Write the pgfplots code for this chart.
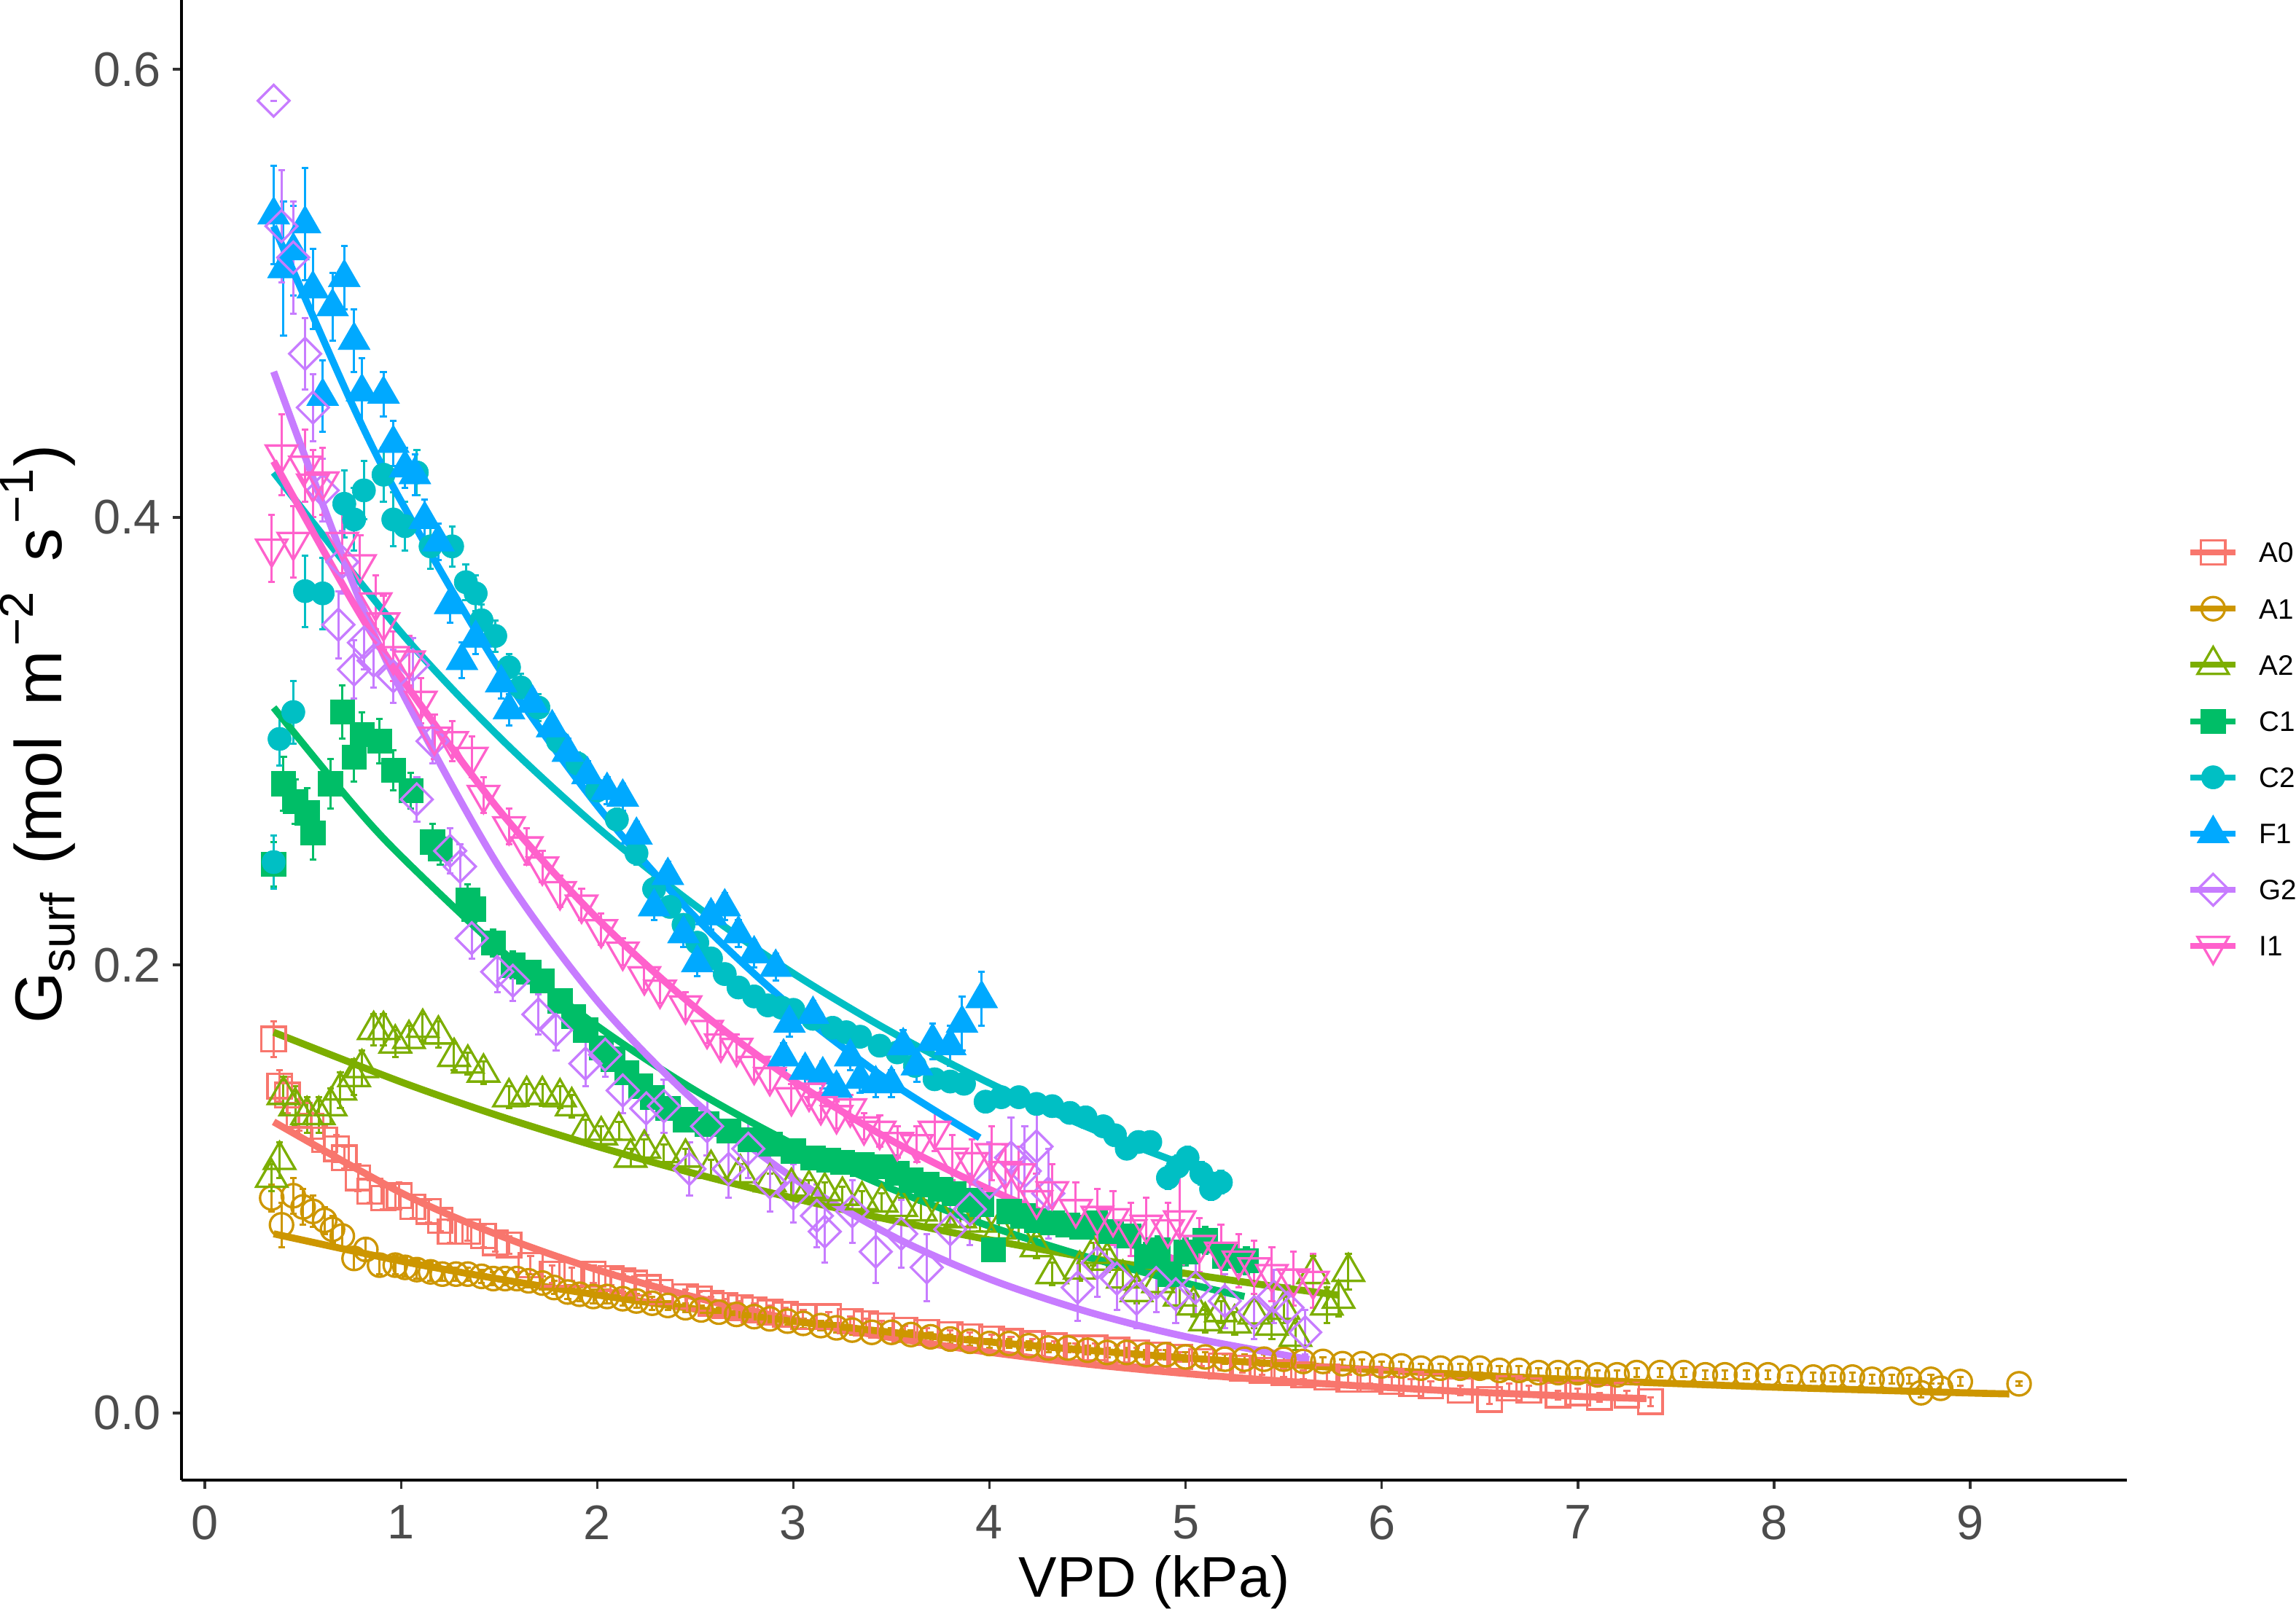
\documentclass[border=0pt]{standalone}
\usepackage{fontspec}
\setmainfont{Liberation Sans}
\usepackage{pgfplots}
\usepackage{pgfplotstable}
\pgfplotsset{compat=1.18}

\definecolor{cAO}{HTML}{F8766D}
\definecolor{cAI}{HTML}{CD9600}
\definecolor{cAII}{HTML}{7CAE00}
\definecolor{cCI}{HTML}{00BE67}
\definecolor{cCII}{HTML}{00BFC4}
\definecolor{cFI}{HTML}{00A9FF}
\definecolor{cGII}{HTML}{C77CFF}
\definecolor{cII}{HTML}{FF61CC}

\pgfplotstableread{
x y e
0.35 0.167 0.008
0.38 0.146 0.007
0.42 0.142 0.008
0.48 0.133 0.007
0.54 0.128 0.006
0.61 0.122 0.006
0.67 0.118 0.006
0.71 0.114 0.005
0.78 0.105 0.006
0.84 0.099 0.005
0.91 0.096 0.005
0.99 0.097 0.006
1.06 0.092 0.005
1.14 0.090 0.005
1.20 0.086 0.005
1.25 0.081 0.005
1.34 0.081 0.004
1.42 0.079 0.005
1.48 0.076 0.004
1.55 0.075 0.004
1.66 0.066 0.004
1.77 0.062 0.004
1.87 0.062 0.003
1.98 0.062 0.004
2.07 0.060 0.003
2.13 0.059 0.003
2.19 0.058 0.003
2.26 0.056 0.003
2.32 0.054 0.003
2.45 0.052 0.003
2.52 0.051 0.003
2.58 0.049 0.003
2.65 0.048 0.003
2.73 0.047 0.003
2.80 0.046 0.003
2.88 0.045 0.003
2.96 0.044 0.003
3.05 0.043 0.003
3.18 0.043 0.002
3.29 0.041 0.002
3.37 0.040 0.002
3.45 0.039 0.002
3.57 0.037 0.002
3.68 0.036 0.002
3.80 0.035 0.002
3.90 0.034 0.002
4.01 0.033 0.002
4.11 0.032 0.002
4.22 0.031 0.002
4.33 0.030 0.002
4.44 0.029 0.002
4.54 0.029 0.002
4.65 0.028 0.002
4.75 0.027 0.002
4.86 0.026 0.002
4.97 0.025 0.002
5.08 0.023 0.002
5.18 0.021 0.002
5.29 0.020 0.002
5.39 0.019 0.002
5.50 0.018 0.002
5.60 0.017 0.002
5.72 0.016 0.002
5.83 0.015 0.002
5.94 0.015 0.002
6.05 0.014 0.002
6.15 0.013 0.002
6.25 0.012 0.002
6.40 0.010 0.002
6.55 0.006 0.002
6.65 0.011 0.002
6.75 0.010 0.002
6.90 0.008 0.002
7.00 0.009 0.002
7.11 0.007 0.002
7.25 0.008 0.002
7.37 0.005 0.002
}\tAO

\pgfplotstableread{
x y e
0.34 0.096 0.006
0.39 0.084 0.010
0.45 0.097 0.008
0.50 0.092 0.008
0.55 0.090 0.007
0.61 0.086 0.006
0.65 0.082 0.006
0.70 0.079 0.005
0.76 0.069 0.005
0.82 0.073 0.005
0.89 0.066 0.004
0.97 0.066 0.004
1.02 0.065 0.004
1.08 0.064 0.004
1.15 0.063 0.004
1.21 0.062 0.003
1.28 0.062 0.003
1.34 0.062 0.003
1.41 0.061 0.003
1.47 0.060 0.003
1.53 0.060 0.003
1.59 0.060 0.003
1.65 0.059 0.003
1.72 0.058 0.003
1.78 0.056 0.003
1.85 0.054 0.003
1.91 0.053 0.003
1.98 0.052 0.003
2.05 0.052 0.003
2.13 0.051 0.003
2.20 0.050 0.003
2.28 0.049 0.003
2.36 0.048 0.002
2.45 0.047 0.002
2.53 0.046 0.002
2.62 0.045 0.002
2.71 0.044 0.002
2.80 0.043 0.002
2.88 0.042 0.002
2.97 0.041 0.002
3.05 0.040 0.002
3.14 0.039 0.002
3.22 0.038 0.002
3.30 0.037 0.002
3.40 0.036 0.002
3.50 0.036 0.002
3.60 0.035 0.002
3.70 0.034 0.002
3.80 0.033 0.002
3.90 0.032 0.002
4.00 0.031 0.002
4.10 0.031 0.002
4.20 0.030 0.002
4.30 0.029 0.002
4.40 0.029 0.002
4.50 0.028 0.002
4.60 0.027 0.002
4.70 0.027 0.002
4.80 0.026 0.002
4.90 0.026 0.002
5.00 0.025 0.002
5.10 0.025 0.002
5.20 0.024 0.002
5.30 0.024 0.002
5.40 0.024 0.002
5.50 0.024 0.002
5.60 0.023 0.002
5.70 0.023 0.002
5.80 0.022 0.002
5.90 0.022 0.002
6.00 0.021 0.002
6.10 0.021 0.002
6.20 0.020 0.002
6.30 0.020 0.002
6.40 0.020 0.002
6.50 0.020 0.002
6.60 0.019 0.002
6.70 0.019 0.002
6.80 0.018 0.002
6.90 0.018 0.002
7.00 0.018 0.002
7.10 0.017 0.002
7.20 0.017 0.002
7.30 0.018 0.002
7.42 0.018 0.002
7.54 0.018 0.002
7.65 0.017 0.002
7.75 0.017 0.002
7.86 0.017 0.002
7.97 0.017 0.002
8.08 0.016 0.002
8.20 0.016 0.002
8.30 0.016 0.002
8.40 0.016 0.002
8.50 0.015 0.002
8.60 0.015 0.002
8.69 0.015 0.002
8.75 0.009 0.002
8.80 0.015 0.002
8.85 0.011 0.002
8.95 0.014 0.002
9.25 0.013 0.001
}\tAI

\pgfplotstableread{
x y e
0.34 0.105 0.006
0.38 0.113 0.008
0.40 0.142 0.008
0.46 0.137 0.009
0.52 0.133 0.008
0.58 0.133 0.008
0.64 0.137 0.008
0.69 0.144 0.008
0.76 0.150 0.008
0.80 0.154 0.008
0.86 0.171 0.007
0.91 0.171 0.007
0.97 0.165 0.006
1.04 0.167 0.006
1.11 0.172 0.006
1.19 0.169 0.006
1.27 0.159 0.006
1.34 0.156 0.005
1.42 0.152 0.005
1.55 0.141 0.005
1.64 0.142 0.005
1.72 0.142 0.005
1.81 0.141 0.005
1.87 0.137 0.005
1.94 0.126 0.005
2.02 0.124 0.004
2.11 0.126 0.004
2.17 0.114 0.004
2.24 0.118 0.004
2.34 0.116 0.004
2.45 0.114 0.004
2.58 0.109 0.004
2.73 0.107 0.004
2.88 0.103 0.004
2.99 0.101 0.004
3.08 0.100 0.004
3.16 0.099 0.004
3.25 0.097 0.004
3.35 0.095 0.004
3.45 0.094 0.004
3.55 0.092 0.004
3.65 0.090 0.004
3.75 0.088 0.004
3.85 0.087 0.004
3.95 0.085 0.004
4.05 0.082 0.005
4.15 0.079 0.005
4.24 0.074 0.005
4.32 0.062 0.005
4.46 0.064 0.005
4.53 0.071 0.005
4.60 0.068 0.005
4.68 0.060 0.005
4.75 0.054 0.005
4.86 0.058 0.005
4.97 0.052 0.005
5.04 0.048 0.005
5.10 0.041 0.005
5.18 0.045 0.005
5.25 0.040 0.005
5.35 0.044 0.006
5.44 0.039 0.006
5.50 0.046 0.006
5.56 0.034 0.006
5.65 0.062 0.008
5.72 0.048 0.008
5.78 0.051 0.008
5.83 0.063 0.008
}\tAII

\pgfplotstableread{
x y e
0.35 0.245 0.010
0.40 0.281 0.012
0.46 0.273 0.010
0.52 0.268 0.011
0.55 0.259 0.012
0.64 0.281 0.011
0.70 0.313 0.012
0.76 0.293 0.011
0.80 0.303 0.010
0.89 0.300 0.010
0.96 0.287 0.009
1.05 0.278 0.008
1.16 0.255 0.008
1.20 0.252 0.007
1.34 0.229 0.007
1.37 0.225 0.006
1.47 0.210 0.006
1.57 0.200 0.006
1.65 0.197 0.005
1.72 0.193 0.005
1.81 0.184 0.005
1.88 0.177 0.005
1.94 0.171 0.005
2.02 0.163 0.005
2.08 0.158 0.005
2.15 0.152 0.005
2.22 0.146 0.004
2.28 0.141 0.004
2.36 0.136 0.004
2.45 0.131 0.004
2.56 0.129 0.004
2.67 0.126 0.004
2.78 0.122 0.004
2.88 0.120 0.004
3.00 0.117 0.004
3.10 0.114 0.004
3.18 0.113 0.004
3.25 0.112 0.004
3.35 0.111 0.004
3.46 0.110 0.004
3.53 0.107 0.004
3.60 0.104 0.004
3.68 0.102 0.004
3.75 0.100 0.004
3.82 0.098 0.004
3.90 0.095 0.004
3.96 0.093 0.004
4.02 0.073 0.005
4.10 0.090 0.005
4.17 0.088 0.005
4.24 0.086 0.005
4.32 0.085 0.005
4.40 0.084 0.005
4.47 0.083 0.005
4.54 0.085 0.005
4.62 0.081 0.005
4.71 0.079 0.005
4.80 0.070 0.006
4.86 0.073 0.006
4.92 0.062 0.006
5.00 0.072 0.006
5.10 0.077 0.006
5.20 0.070 0.006
5.31 0.068 0.006
}\tCI

\pgfplotstableread{
x y e
0.35 0.246 0.012
0.38 0.301 0.012
0.45 0.313 0.014
0.51 0.367 0.016
0.60 0.366 0.016
0.71 0.406 0.015
0.76 0.399 0.014
0.81 0.412 0.013
0.91 0.419 0.012
0.96 0.399 0.012
1.02 0.396 0.011
1.08 0.420 0.010
1.15 0.387 0.010
1.26 0.387 0.009
1.33 0.371 0.008
1.38 0.366 0.008
1.41 0.354 0.007
1.48 0.347 0.007
1.55 0.333 0.006
1.61 0.324 0.006
1.70 0.315 0.006
1.80 0.300 0.005
1.90 0.290 0.005
2.00 0.278 0.005
2.10 0.265 0.005
2.20 0.250 0.005
2.29 0.234 0.005
2.37 0.226 0.004
2.44 0.218 0.004
2.51 0.210 0.004
2.58 0.203 0.004
2.65 0.196 0.004
2.72 0.190 0.004
2.80 0.186 0.004
2.87 0.182 0.004
2.94 0.181 0.004
3.00 0.180 0.004
3.10 0.176 0.004
3.20 0.172 0.004
3.27 0.170 0.004
3.34 0.168 0.004
3.44 0.164 0.004
3.53 0.161 0.004
3.62 0.155 0.004
3.72 0.149 0.004
3.80 0.148 0.004
3.87 0.147 0.004
3.98 0.139 0.004
4.06 0.141 0.004
4.15 0.141 0.004
4.24 0.138 0.004
4.32 0.137 0.004
4.41 0.134 0.004
4.49 0.132 0.004
4.58 0.128 0.004
4.64 0.124 0.004
4.70 0.118 0.004
4.76 0.121 0.004
4.82 0.121 0.004
4.91 0.105 0.005
4.96 0.110 0.005
5.01 0.114 0.005
5.08 0.107 0.005
5.13 0.100 0.005
5.18 0.103 0.005
}\tCII

\pgfplotstableread{
x y e
0.35 0.535 0.022
0.40 0.511 0.030
0.45 0.519 0.020
0.51 0.531 0.025
0.55 0.502 0.018
0.60 0.454 0.016
0.65 0.494 0.015
0.71 0.507 0.014
0.76 0.479 0.014
0.80 0.456 0.015
0.91 0.455 0.010
0.96 0.433 0.010
1.02 0.422 0.009
1.07 0.419 0.009
1.12 0.399 0.009
1.19 0.389 0.008
1.25 0.361 0.008
1.31 0.336 0.008
1.38 0.346 0.007
1.51 0.326 0.007
1.55 0.314 0.007
1.67 0.317 0.006
1.77 0.306 0.006
1.85 0.295 0.006
1.95 0.285 0.006
2.05 0.278 0.006
2.13 0.275 0.006
2.20 0.258 0.006
2.29 0.226 0.006
2.36 0.240 0.006
2.44 0.214 0.006
2.51 0.201 0.006
2.58 0.222 0.006
2.65 0.226 0.006
2.72 0.214 0.006
2.80 0.205 0.006
2.91 0.199 0.006
2.95 0.159 0.006
2.98 0.174 0.006
3.06 0.153 0.006
3.10 0.178 0.006
3.15 0.151 0.006
3.22 0.145 0.006
3.29 0.159 0.006
3.34 0.149 0.006
3.42 0.147 0.006
3.50 0.147 0.006
3.56 0.164 0.007
3.63 0.155 0.007
3.71 0.166 0.008
3.80 0.164 0.009
3.86 0.174 0.012
3.96 0.185 0.012
}\tFI

\pgfplotstableread{
x y e
0.35 0.586 0.000
0.39 0.530 0.025
0.45 0.516 0.025
0.51 0.473 0.016
0.55 0.449 0.015
0.60 0.412 0.014
0.68 0.352 0.015
0.70 0.380 0.014
0.76 0.332 0.013
0.81 0.344 0.012
0.86 0.336 0.012
0.96 0.329 0.012
1.06 0.334 0.012
1.08 0.274 0.010
1.16 0.300 0.010
1.25 0.251 0.010
1.30 0.244 0.010
1.36 0.212 0.009
1.49 0.197 0.009
1.57 0.193 0.009
1.70 0.178 0.009
1.79 0.171 0.009
1.94 0.156 0.010
2.04 0.160 0.010
2.13 0.144 0.010
2.25 0.136 0.012
2.34 0.137 0.012
2.47 0.109 0.012
2.56 0.128 0.013
2.67 0.109 0.013
2.77 0.118 0.013
2.88 0.103 0.013
3.00 0.098 0.013
3.12 0.088 0.014
3.16 0.081 0.014
3.30 0.090 0.014
3.42 0.072 0.014
3.55 0.080 0.015
3.68 0.065 0.015
3.80 0.082 0.015
3.90 0.091 0.016
4.00 0.103 0.018
4.11 0.114 0.018
4.18 0.108 0.020
4.24 0.119 0.020
4.30 0.098 0.020
4.45 0.056 0.015
4.55 0.067 0.015
4.65 0.060 0.014
4.75 0.051 0.013
4.85 0.058 0.013
4.95 0.053 0.013
5.05 0.056 0.012
5.20 0.050 0.012
5.35 0.045 0.012
5.45 0.052 0.012
5.52 0.047 0.010
5.61 0.036 0.010
}\tGII

\pgfplotstableread{
x y e
0.34 0.386 0.015
0.39 0.428 0.018
0.45 0.389 0.016
0.51 0.423 0.016
0.55 0.415 0.015
0.60 0.416 0.015
0.70 0.389 0.014
0.79 0.379 0.013
0.87 0.362 0.012
0.91 0.353 0.012
0.96 0.338 0.011
1.04 0.336 0.011
1.10 0.318 0.010
1.17 0.302 0.010
1.26 0.300 0.009
1.36 0.293 0.009
1.42 0.276 0.008
1.55 0.262 0.008
1.64 0.253 0.008
1.72 0.244 0.007
1.81 0.233 0.007
1.92 0.227 0.007
2.02 0.216 0.007
2.13 0.206 0.006
2.24 0.195 0.006
2.32 0.189 0.006
2.45 0.182 0.006
2.56 0.171 0.006
2.63 0.165 0.006
2.71 0.163 0.006
2.80 0.155 0.006
2.88 0.150 0.006
2.99 0.141 0.006
3.08 0.143 0.006
3.14 0.137 0.006
3.22 0.133 0.006
3.29 0.136 0.006
3.36 0.128 0.006
3.44 0.126 0.007
3.53 0.121 0.007
3.63 0.120 0.008
3.72 0.126 0.009
3.81 0.114 0.010
3.91 0.112 0.010
4.01 0.116 0.012
4.08 0.108 0.012
4.15 0.107 0.012
4.24 0.095 0.012
4.32 0.099 0.012
4.44 0.091 0.012
4.55 0.088 0.012
4.63 0.087 0.012
4.72 0.082 0.012
4.80 0.084 0.012
4.91 0.082 0.012
4.97 0.086 0.025
5.07 0.075 0.012
5.18 0.072 0.012
5.27 0.068 0.012
5.35 0.065 0.012
5.44 0.062 0.012
5.55 0.060 0.012
5.65 0.059 0.012
}\tII

\pgfplotsset{
  ebar/.style={only marks, forget plot,
    /pgfplots/error bars/y dir=both,
    /pgfplots/error bars/y explicit,
    /pgfplots/error bars/error bar style={line width=0.45pt},
    /pgfplots/error bars/error mark options={rotate=90, line width=0.45pt, mark size=0.7pt}},
  fit/.style={no marks, line width=1.45pt, smooth, forget plot},
  opn/.style={mark options={solid, line width=0.5pt, fill=none}},
  fil/.style={mark options={solid, line width=0.1pt}},
}

\newcommand{\supr}[1]{\raisebox{0.42em}{\fontsize{9.8}{11}\selectfont #1}}
\newcommand{\subr}[1]{\raisebox{-0.2em}{\fontsize{9.8}{11}\selectfont #1}}

\begin{document}
\begin{tikzpicture}
\useasboundingbox (-37.35pt,-27pt) rectangle (435.15pt,304.65pt);
\begin{axis}[
  scale only axis, width=400.35pt, height=304.65pt,
  xmin=-0.12, xmax=9.80, ymin=-0.030, ymax=0.631,
  axis x line*=bottom, axis y line*=left,
  axis line style={line width=0.55pt, black, -},
  xtick={0,1,2,3,4,5,6,7,8,9},
  xticklabels={0,1,2,3,4,5,6,7,8,9},
  ytick={0,0.2,0.4,0.6},
  yticklabels={0.0,0.2,0.4,0.6},
  tick align=outside, major tick length=1.8pt,
  tick style={line width=0.55pt, color=black!80},
  ticklabel style={font=\fontsize{10}{11}\selectfont, text=black!70},
  xticklabel style={inner sep=3.2pt},
  yticklabel style={inner sep=2.2pt},
  xlabel={VPD (kPa)},
  ylabel={G\subr{surf}\hspace{2pt} (mol\hspace{2.5pt} m\hspace{1pt}\supr{−2}\hspace{2.5pt} s\hspace{1pt}\supr{−1}\hspace{0.5pt})},
  xlabel style={font=\fontsize{11.8}{13}\selectfont, at={(axis description cs:0.5,-0.069)}, anchor=center},
  ylabel style={font=\fontsize{13.6}{15}\selectfont, at={(axis description cs:-0.0618,0.504)}, anchor=base},
  legend style={draw=none, fill=none, at={(axis description cs:1.0307,0.4938)}, anchor=west,
    font=\fontsize{5.8}{6.5}\selectfont, inner sep=0pt, row sep=3.17pt, column sep=4.2pt,
    nodes={inner sep=0pt, anchor=west, text height=4.15pt, text depth=0pt}},
  legend cell align=left,
  legend image code/.code={\path[draw=none, fill=none] (0pt,-4.2pt) rectangle (9.3pt,4.2pt);
    \draw[#1, line width=1.2pt, mark repeat=2, mark phase=2] plot coordinates {(0pt,0pt) (4.65pt,0pt) (9.3pt,0pt)};},
]
% points with error bars
\addplot[cAO, ebar, mark=square, mark size=2.5pt, opn] table[x=x,y=y,y error=e]{\tAO};
\addplot[cAI, ebar, mark=o, mark size=2.4pt, opn] table[x=x,y=y,y error=e]{\tAI};
\addplot[cAII, ebar, mark=triangle, mark size=3.7pt, opn] table[x=x,y=y,y error=e]{\tAII};
\addplot[cCI, ebar, mark=square*, mark size=2.5pt, fil] table[x=x,y=y,y error=e]{\tCI};
\addplot[cCII, ebar, mark=*, mark size=2.4pt, fil] table[x=x,y=y,y error=e]{\tCII};
\addplot[cFI, ebar, mark=triangle*, mark size=3.8pt, fil] table[x=x,y=y,y error=e]{\tFI};
\addplot[cGII, ebar, mark=square, mark size=2.3pt, mark options={solid, line width=0.5pt, fill=none, rotate=45}] table[x=x,y=y,y error=e]{\tGII};
\addplot[cII, ebar, mark=triangle, mark size=3.7pt, mark options={solid, line width=0.5pt, fill=none, rotate=180}] table[x=x,y=y,y error=e]{\tII};
% fitted curves
\addplot[cAO, fit] coordinates {(0.35,0.130) (1,0.0983) (1.5,0.0793) (2,0.0639) (2.5,0.0516) (3,0.0416) (3.5,0.0336) (4,0.0271) (4.5,0.0218) (5,0.0176) (5.5,0.0142) (6,0.0115) (6.5,0.0092) (7,0.0074) (7.35,0.0064)};
\addplot[cAI, fit] coordinates {(0.35,0.080) (1,0.0678) (1.5,0.0598) (2,0.0527) (2.5,0.0464) (3,0.0409) (3.5,0.0360) (4,0.0317) (4.5,0.0280) (5,0.0246) (5.5,0.0217) (6,0.0191) (6.5,0.0168) (7,0.0148) (7.5,0.0131) (8,0.0115) (8.5,0.0102) (9,0.0089) (9.2,0.0085)};
\addplot[cAII, fit] coordinates {(0.35,0.170) (1,0.1478) (1.5,0.1326) (2,0.1190) (2.5,0.1068) (3,0.0959) (3.5,0.0861) (4,0.0773) (4.5,0.0694) (5,0.0623) (5.5,0.0559) (5.78,0.0526)};
\addplot[cCI, fit] coordinates {(0.35,0.315) (0.75,0.2723) (1,0.2486) (1.5,0.2073) (2,0.1728) (2.5,0.1440) (3,0.1200) (3.5,0.1001) (4,0.0834) (4.5,0.0696) (5,0.0580) (5.3,0.0520)};
\addplot[cCII, fit] coordinates {(0.35,0.420) (1,0.3485) (1.5,0.3019) (2,0.2616) (2.5,0.2266) (3,0.1963) (3.5,0.1701) (4,0.1473) (4.5,0.1276) (5,0.1106) (5.15,0.1059)};
\addplot[cFI, fit] coordinates {(0.35,0.530) (0.75,0.4505) (1,0.4071) (1.5,0.3323) (2,0.2712) (2.5,0.2214) (3,0.1807) (3.5,0.1475) (3.95,0.1229)};
\addplot[cGII, fit] coordinates {(0.35,0.465) (0.75,0.3714) (1,0.3227) (1.5,0.2437) (2,0.1840) (2.5,0.1389) (3,0.1049) (3.5,0.0792) (4,0.0598) (4.5,0.0452) (5,0.0341) (5.63,0.0239)};
\addplot[cII, fit] coordinates {(0.35,0.425) (0.75,0.3626) (1,0.3284) (1.5,0.2692) (2,0.2208) (2.5,0.1810) (3,0.1484) (3.5,0.1217) (4,0.0998) (4.5,0.0818) (5,0.0671)};
% legend
\addlegendimage{cAO, mark=square, mark size=2.5pt, mark options={solid, line width=0.5pt, fill=none}}
\addlegendentry{A0}
\addlegendimage{cAI, mark=o, mark size=2.4pt, mark options={solid, line width=0.5pt, fill=none}}
\addlegendentry{A1}
\addlegendimage{cAII, mark=triangle, mark size=3.7pt, mark options={solid, line width=0.5pt, fill=none}}
\addlegendentry{A2}
\addlegendimage{cCI, mark=square*, mark size=2.5pt, mark options={solid, line width=0.1pt}}
\addlegendentry{C1}
\addlegendimage{cCII, mark=*, mark size=2.4pt, mark options={solid, line width=0.1pt}}
\addlegendentry{C2}
\addlegendimage{cFI, mark=triangle*, mark size=3.8pt, mark options={solid, line width=0.1pt}}
\addlegendentry{F1}
\addlegendimage{cGII, mark=square, mark size=2.3pt, mark options={solid, line width=0.5pt, fill=none, rotate=45}}
\addlegendentry{G2}
\addlegendimage{cII, mark=triangle, mark size=3.7pt, mark options={solid, line width=0.5pt, fill=none, rotate=180}}
\addlegendentry{I1}
\end{axis}
\end{tikzpicture}
\end{document}
